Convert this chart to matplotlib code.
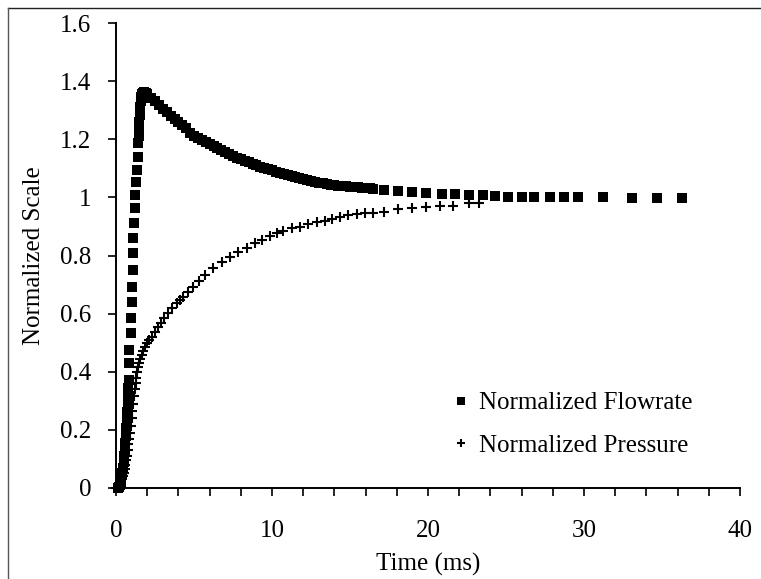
import matplotlib
matplotlib.use("Agg")
import matplotlib.pyplot as plt
from matplotlib.lines import Line2D
from matplotlib.ticker import MultipleLocator

plt.rcParams['font.family'] = ['Liberation Serif', 'DejaVu Serif']

flow_t = [0.1, 0.2, 0.25, 0.3, 0.35, 0.4, 0.45, 0.5, 0.53, 0.56, 0.6, 0.63, 0.66, 0.69,
          0.72, 0.75, 0.77, 0.79, 0.82, 0.85, 0.85, 0.94, 0.94, 1.0, 1.0, 1.07, 1.07, 1.11,
          1.17, 1.22, 1.22, 1.28, 1.33, 1.43, 1.43, 1.45, 1.47, 1.5, 1.52, 1.55, 1.58, 1.62,
          1.68, 1.75, 1.82, 1.9,
          2.0, 2.25, 2.5, 2.75, 3.0, 3.25, 3.5, 3.75, 4.0, 4.25, 4.5, 4.75, 5.0, 5.25, 5.5,
          5.75, 6.0, 6.25, 6.5, 6.75, 7.0, 7.25, 7.5, 7.75, 8.0, 8.25, 8.5, 8.75, 9.0, 9.25,
          9.5, 9.75, 10.0, 10.25, 10.5, 10.75, 11.0, 11.25, 11.5, 11.75, 12.0, 12.25, 12.5,
          12.75, 13.0, 13.25, 13.5, 13.75, 14.0, 14.25, 14.5, 14.75, 15.0, 15.25, 15.5, 15.75,
          16.0, 16.25, 16.5,
          17.2, 18.1, 19.0, 19.9, 20.9, 21.7, 22.6, 23.5, 24.3, 25.1, 26.0, 26.8, 27.8, 28.7,
          29.6, 31.2, 33.1, 34.7, 36.3]
flow_v = [0.0, 0.005, 0.01, 0.02, 0.035, 0.05, 0.07, 0.09, 0.11, 0.13, 0.155, 0.18, 0.205, 0.23,
          0.26, 0.29, 0.32, 0.345, 0.372, 0.429, 0.475, 0.532, 0.584, 0.641, 0.693, 0.75, 0.808, 0.859,
          0.911, 0.962, 1.008, 1.054, 1.094, 1.14, 1.186, 1.21, 1.235, 1.26, 1.285, 1.31, 1.33, 1.345,
          1.355, 1.36, 1.362, 1.36,
          1.355, 1.342, 1.33, 1.317, 1.305, 1.293, 1.281, 1.27, 1.259, 1.248, 1.237, 1.222, 1.21, 1.203, 1.196,
          1.189, 1.182, 1.176, 1.169, 1.162, 1.155, 1.149, 1.143, 1.137, 1.131, 1.126, 1.121, 1.116, 1.111, 1.106,
          1.101, 1.097, 1.093, 1.089, 1.085, 1.081, 1.077, 1.073, 1.069, 1.066, 1.063, 1.06, 1.057,
          1.054, 1.051, 1.048, 1.046, 1.044, 1.042, 1.04, 1.039, 1.038, 1.037, 1.035, 1.034, 1.033,
          1.032, 1.031, 1.03,
          1.025, 1.022, 1.017, 1.015, 1.011, 1.01, 1.009, 1.008, 1.004, 1.003, 1.003, 1.002, 1.001, 1.001,
          1.0, 1.0, 0.998, 0.998, 0.999]

press_t = [0.0, 0.1, 0.2, 0.3, 0.35, 0.4, 0.45, 0.5, 0.55, 0.6, 0.65, 0.7, 0.75, 0.8, 0.85, 0.9,
           0.95, 1.0, 1.05, 1.1, 1.15, 1.2, 1.25, 1.3, 1.37, 1.43, 1.5, 1.57, 1.65, 1.75, 1.85, 1.97,
           2.1, 2.29, 2.5, 2.71, 2.9, 3.1, 3.35, 3.6, 3.89, 4.1, 4.31, 4.6, 4.96, 5.3, 5.71, 6.24,
           6.77, 7.31, 7.84, 8.38, 8.91, 9.34, 9.87, 10.3, 10.7, 11.26, 11.8, 12.33, 12.87, 13.4,
           13.83, 14.36, 14.89, 15.43, 15.96, 16.49, 17.2, 18.1, 19.0, 19.9, 20.8, 21.6, 22.6, 23.3]
press_v = [0.0, 0.0, 0.005, 0.01, 0.02, 0.03, 0.04, 0.05, 0.065, 0.08, 0.095, 0.11, 0.13, 0.15, 0.17, 0.19,
           0.215, 0.24, 0.265, 0.29, 0.315, 0.34, 0.36, 0.38, 0.4, 0.415, 0.43, 0.445, 0.458, 0.472, 0.485, 0.498,
           0.51, 0.521, 0.538, 0.555, 0.568, 0.584, 0.601, 0.62, 0.636, 0.648, 0.658, 0.676, 0.693, 0.712, 0.733, 0.756,
           0.779, 0.796, 0.813, 0.825, 0.842, 0.853, 0.867, 0.876, 0.885, 0.894, 0.899, 0.907, 0.914, 0.92,
           0.926, 0.934, 0.939, 0.942, 0.945, 0.947, 0.951, 0.959, 0.965, 0.967, 0.971, 0.971, 0.982, 0.982]

x_ticks = [0, 10, 20, 30, 40]
y_ticks = [0, 0.2, 0.4, 0.6, 0.8, 1, 1.2, 1.4, 1.6]
y_labels = ['0', '0.2', '0.4', '0.6', '0.8', '1', '1.2', '1.4', '1.6']

FS = 18

fig = plt.figure(figsize=(7.61, 5.79), dpi=100)
ax = fig.add_axes([116/761, 91/579, 624/761, 465/579])

ax.plot(flow_t, flow_v, linestyle='none', marker='s', markersize=7.2, color='black',
        markeredgewidth=0, label='Normalized Flowrate', clip_on=False)
ax.plot(press_t, press_v, linestyle='none', marker='+', markersize=6.8, color='black',
        markeredgewidth=1.5, label='Normalized Pressure', clip_on=False)

ax.set_xlim(0, 40)
ax.set_ylim(0, 1.6)
ax.set_xticks(x_ticks)
ax.set_xticklabels([str(v) for v in x_ticks])
ax.xaxis.set_minor_locator(MultipleLocator(2))
ax.set_yticks(y_ticks)
ax.set_yticklabels(y_labels)

for s in ['top', 'right']:
    ax.spines[s].set_visible(False)
for s in ['left', 'bottom']:
    ax.spines[s].set_linewidth(1.4)
    ax.spines[s].set_color('black')

ax.tick_params(axis='both', which='both', direction='out', length=6, width=1.2,
               colors='black', labelsize=FS)
ax.tick_params(axis='x', which='both', pad=17)
ax.tick_params(axis='y', pad=12)

ax.set_xlabel('Time (ms)', fontsize=FS)
ax.set_ylabel('Normalized Scale', fontsize=FS)
ax.xaxis.set_label_coords(0.5, -0.14)
ax.yaxis.set_label_coords(-0.113, 0.5)

leg = ax.legend(loc='center left', bbox_to_anchor=(0.533, 0.1366), frameon=False,
                fontsize=FS, handlelength=1.0, handletextpad=0.2, labelspacing=0.8,
                borderpad=0, borderaxespad=0, markerscale=0.8)

fig.add_artist(Line2D([8/761, 1.0], [1 - 8/579, 1 - 8/579], color='#222222', lw=1.0,
                      transform=fig.transFigure))
fig.add_artist(Line2D([8/761, 8/761], [0.0, 1 - 8/579], color='#555555', lw=1.0,
                      transform=fig.transFigure))

fig.savefig('out.png', dpi=100, facecolor='white')
